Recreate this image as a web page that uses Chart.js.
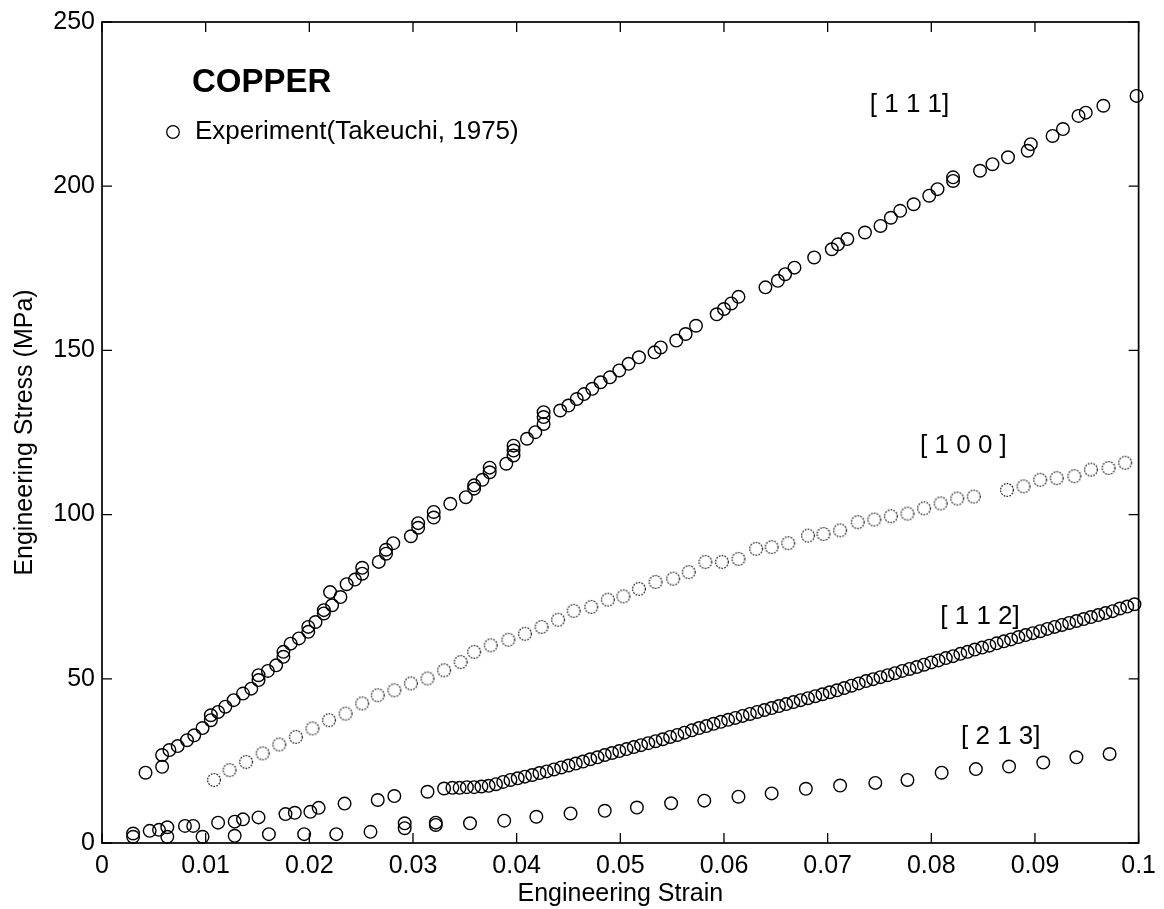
<!DOCTYPE html>
<html lang="en">
<head>
    <meta charset="UTF-8">
    <title>Copper - Engineering Stress vs Strain</title>
    <style>
        html, body { margin: 0; padding: 0; background: #fff; }
        #chart-container {
            width: 1164px;
            height: 909px;
        }
    </style>
</head>
<body>
    <div id="chart-container">
        <canvas id="copper-chart"></canvas>
    </div>

    <script src="https://cdn.jsdelivr.net/npm/chart.js"></script>

    <script>
        // [1 1 1] orientation
        const strain111 = [0.0042,0.0058,0.0058,0.0065,0.0073,0.0082,0.0089,0.0097,0.0105,0.0105,
            0.0112,0.0119,0.0127,0.0136,0.0144,0.0151,0.0151,0.0160,0.0168,0.0175,
            0.0175,0.0182,0.0190,0.0199,0.0199,0.0206,0.0214,0.0214,0.0222,0.0220,
            0.0230,0.0236,0.0244,0.0251,0.0251,0.0267,0.0274,0.0274,0.0281,0.0298,
            0.0305,0.0305,0.0320,0.0320,0.0336,0.0351,0.0359,0.0359,0.0367,0.0374,
            0.0374,0.0390,0.0397,0.0397,0.0397,0.0410,0.0418,0.0426,0.0426,0.0426,
            0.0442,0.0450,0.0458,0.0465,0.0473,0.0481,0.0490,0.0499,0.0508,0.0518,
            0.0533,0.0539,0.0554,0.0563,0.0573,0.0593,0.0600,0.0607,0.0614,0.0640,
            0.0652,0.0659,0.0668,0.0687,0.0704,0.0710,0.0719,0.0736,0.0751,0.0761,
            0.0770,0.0783,0.0798,0.0806,0.0821,0.0821,0.0847,0.0859,0.0874,0.0893,
            0.0896,0.0917,0.0927,0.0942,0.0949,0.0966,0.0998];
        const stress111 = [21.4,23.2,26.8,28.3,29.5,31.3,32.8,35.0,37.4,38.9,
            39.9,41.5,43.5,45.5,47.0,49.6,51.1,52.4,54.1,56.7,
            58.2,60.7,62.3,64.3,65.8,67.3,69.9,70.9,72.4,76.4,
            74.9,78.8,80.2,82.0,83.8,85.6,88.1,89.3,91.3,93.4,
            96.0,97.4,99.1,100.8,103.3,105.3,107.9,108.9,110.6,112.9,
            114.3,115.5,118.0,119.5,121.0,123.1,125.1,127.6,129.7,131.2,
            131.7,133.2,135.2,136.7,138.3,140.3,141.8,143.9,145.9,147.9,
            149.4,150.9,153.0,155.0,157.5,161.0,162.6,164.3,166.3,169.2,
            171.2,173.2,175.2,178.3,180.8,182.3,183.9,185.9,187.9,190.4,
            192.5,194.5,197.1,199.1,201.6,202.7,204.7,206.7,208.8,210.8,
            212.8,215.3,217.4,221.4,222.4,224.5,227.5];

        // [1 0 0] orientation
        const strain100 = [0.0108,0.0123,0.0139,0.0155,0.0171,0.0187,0.0203,0.0219,0.0235,0.0251,
            0.0266,0.0282,0.0298,0.0314,0.0330,0.0346,0.0359,0.0375,0.0392,0.0408,
            0.0424,0.0440,0.0455,0.0472,0.0488,0.0503,0.0518,0.0534,0.0551,0.0566,
            0.0582,0.0598,0.0614,0.0631,0.0646,0.0662,0.0681,0.0696,0.0712,0.0729,
            0.0745,0.0761,0.0777,0.0793,0.0809,0.0825,0.0841,0.0873,0.0889,0.0905,
            0.0921,0.0938,0.0954,0.0971,0.0987];
        const stress100 = [19.2,22.2,24.7,27.3,30.0,32.3,34.9,37.4,39.4,42.5,
            45.0,46.5,48.6,50.1,52.6,55.1,58.2,60.2,61.9,63.7,
            65.8,68.0,70.7,71.9,74.1,75.1,77.4,79.5,80.5,82.5,
            85.6,85.6,86.5,89.6,90.1,91.3,93.6,94.1,95.2,97.7,
            98.5,99.5,100.3,101.9,103.4,104.9,105.5,107.5,108.6,110.6,
            111.1,111.7,113.7,114.2,115.8];

        // [1 1 2] orientation
        const strain112 = [0.0030,0.0046,0.0055,0.0063,0.0080,0.0088,0.0112,0.0128,0.0136,0.0151,
            0.0177,0.0186,0.0201,0.0209,0.0234,0.0266,0.0282,0.0314,0.0330,
            0.0338,0.0345,0.0352,0.0359,0.0366,0.0373,0.0380,0.0387,0.0394,0.0401,
            0.0408,0.0415,0.0422,0.0429,0.0436,0.0443,0.0450,0.0457,0.0464,0.0471,
            0.0478,0.0485,0.0492,0.0499,0.0506,0.0513,0.0520,0.0527,0.0534,0.0541,
            0.0548,0.0555,0.0562,0.0569,0.0576,0.0583,0.0590,0.0597,0.0604,0.0611,
            0.0618,0.0625,0.0632,0.0639,0.0646,0.0653,0.0660,0.0667,0.0674,0.0681,
            0.0688,0.0695,0.0702,0.0709,0.0716,0.0723,0.0730,0.0737,0.0744,0.0751,
            0.0758,0.0765,0.0772,0.0779,0.0786,0.0793,0.0800,0.0807,0.0814,0.0821,
            0.0828,0.0835,0.0842,0.0849,0.0856,0.0863,0.0870,0.0877,0.0884,0.0891,
            0.0898,0.0905,0.0912,0.0919,0.0926,0.0933,0.0940,0.0947,0.0954,0.0961,
            0.0968,0.0975,0.0982,0.0989,0.0996];
        const stress112 = [2.9,3.7,4.0,4.8,5.2,5.2,6.2,6.5,7.2,7.8,
            8.8,9.2,9.5,10.7,12.0,13.1,14.3,15.6,16.6,
            16.8,16.8,17.0,17.0,17.2,17.4,17.9,18.6,19.2,19.7,
            20.2,20.7,21.3,21.8,22.4,23.0,23.6,24.2,24.8,25.5,
            26.1,26.8,27.4,28.0,28.6,29.2,29.8,30.4,31.0,31.6,
            32.3,32.9,33.6,34.3,35.0,35.6,36.3,36.9,37.5,38.1,
            38.7,39.3,39.9,40.5,41.1,41.7,42.3,42.9,43.5,44.1,
            44.7,45.3,45.9,46.5,47.2,47.9,48.6,49.3,49.9,50.5,
            51.1,51.7,52.4,53.0,53.6,54.3,55.0,55.6,56.3,56.9,
            57.6,58.2,58.9,59.5,60.1,60.8,61.4,62.0,62.7,63.3,
            63.9,64.5,65.2,65.8,66.4,67.0,67.6,68.2,68.8,69.4,
            70.0,70.6,71.4,72.0,72.7];

        // [2 1 3] orientation
        const strain213 = [0.0030,0.0063,0.0097,0.0128,0.0161,0.0195,0.0226,0.0259,0.0292,0.0292,
            0.0322,0.0322,0.0355,0.0388,0.0419,0.0452,0.0485,0.0516,0.0549,0.0581,
            0.0614,0.0646,0.0679,0.0712,0.0746,0.0777,0.0810,0.0843,0.0875,0.0908,
            0.0940,0.0972];
        const stress213 = [1.9,1.9,1.9,2.2,2.7,2.7,2.7,3.4,4.5,6.0,
            5.5,6.2,6.0,6.8,8.0,9.0,9.8,10.8,12.1,12.9,
            14.1,15.1,16.5,17.5,18.3,19.2,21.4,22.5,23.3,24.5,
            26.1,27.1];

        const xTicks = [0, 0.01, 0.02, 0.03, 0.04, 0.05, 0.06, 0.07, 0.08, 0.09, 0.1];
        const yTicks = [0, 50, 100, 150, 200, 250];

        const curveLabels = ['[ 1 1 1]', '[ 1 0 0 ]', '[ 1 1 2]', '[ 2 1 3]'];
        const labelStrain = [0.0779, 0.0831, 0.0847, 0.0867];
        const labelStress = [224.8, 121.0, 68.9, 32.3];

        const FONT = '"Liberation Sans", Arial, Helvetica, sans-serif';

        function toPoints(xs, ys) {
            return xs.map((x, i) => ({ x: x, y: ys[i] }));
        }

        // dotted grey circle used for the [1 0 0] markers
        function dottedCircle() {
            const c = document.createElement('canvas');
            c.width = 18;
            c.height = 18;
            const g = c.getContext('2d');
            g.setLineDash([1.7, 1.2]);
            g.strokeStyle = '#2a2a2a';
            g.lineWidth = 1.3;
            g.beginPath();
            g.arc(9, 9, 6.4, 0, Math.PI * 2);
            g.stroke();
            return c;
        }

        const frameAndText = {
            id: 'frameAndText',
            afterDraw(chart) {
                const ctx = chart.ctx;
                const a = chart.chartArea;
                const x = chart.scales.x;
                const y = chart.scales.y;
                ctx.save();

                // box
                ctx.strokeStyle = '#000';
                ctx.lineWidth = 1.7;
                ctx.strokeRect(a.left, a.top, a.right - a.left, a.bottom - a.top);

                // inward tick marks on all four sides
                ctx.lineWidth = 1.3;
                ctx.beginPath();
                xTicks.forEach(v => {
                    const px = x.getPixelForValue(v);
                    ctx.moveTo(px, a.bottom); ctx.lineTo(px, a.bottom - 10);
                    ctx.moveTo(px, a.top); ctx.lineTo(px, a.top + 10);
                });
                yTicks.forEach(v => {
                    const py = y.getPixelForValue(v);
                    ctx.moveTo(a.left, py); ctx.lineTo(a.left + 10, py);
                    ctx.moveTo(a.right, py); ctx.lineTo(a.right - 10, py);
                });
                ctx.stroke();

                // orientation labels
                ctx.fillStyle = '#000';
                ctx.font = '26px ' + FONT;
                ctx.textAlign = 'center';
                ctx.textBaseline = 'middle';
                curveLabels.forEach((t, i) => {
                    ctx.fillText(t, x.getPixelForValue(labelStrain[i]), y.getPixelForValue(labelStress[i]));
                });

                // legend block
                ctx.textAlign = 'left';
                ctx.font = 'bold 33px ' + FONT;
                ctx.fillText('COPPER', a.left + 90, a.top + 61);
                ctx.font = '26px ' + FONT;
                ctx.fillText('Experiment(Takeuchi, 1975)', a.left + 93, a.top + 110);
                ctx.lineWidth = 1.3;
                ctx.beginPath();
                ctx.arc(a.left + 71, a.top + 110, 6.3, 0, Math.PI * 2);
                ctx.stroke();

                ctx.restore();
            }
        };

        const solid = {
            pointStyle: 'circle',
            pointRadius: 6.3,
            pointBorderWidth: 1.4,
            pointBorderColor: '#000',
            pointBackgroundColor: 'rgba(0,0,0,0)',
            showLine: false,
            clip: false
        };

        const ctx = document.getElementById('copper-chart').getContext('2d');
        const chart = new Chart(ctx, {
            type: 'scatter',
            data: {
                datasets: [
                    Object.assign({ label: '[1 1 1]', data: toPoints(strain111, stress111) }, solid),
                    {
                        label: '[1 0 0]',
                        data: toPoints(strain100, stress100),
                        pointStyle: dottedCircle(),
                        showLine: false,
                        clip: false
                    },
                    Object.assign({ label: '[1 1 2]', data: toPoints(strain112, stress112) }, solid),
                    Object.assign({ label: '[2 1 3]', data: toPoints(strain213, stress213) }, solid)
                ]
            },
            options: {
                responsive: true,
                maintainAspectRatio: false,
                animation: false,
                events: [],
                layout: { padding: { top: 21, right: 19, left: 0, bottom: 0 } },
                plugins: {
                    legend: { display: false },
                    tooltip: { enabled: false }
                },
                scales: {
                    x: {
                        type: 'linear',
                        min: 0,
                        max: 0.1,
                        afterBuildTicks: s => { s.ticks = xTicks.map(v => ({ value: v })); },
                        afterFit: s => { s.height = 66; },
                        grid: { display: false, drawTicks: false },
                        border: { display: false },
                        ticks: {
                            padding: 8,
                            color: '#000',
                            font: { family: FONT, size: 25 },
                            maxRotation: 0,
                            callback: v => String(Number(v.toFixed(2)))
                        },
                        title: {
                            display: true,
                            text: 'Engineering Strain',
                            color: '#000',
                            font: { family: FONT, size: 25 },
                            padding: { top: 0, bottom: 0 }
                        }
                    },
                    y: {
                        type: 'linear',
                        min: 0,
                        max: 250,
                        afterBuildTicks: s => { s.ticks = yTicks.map(v => ({ value: v })); },
                        afterFit: s => { s.width = 102; },
                        grid: { display: false, drawTicks: false },
                        border: { display: false },
                        ticks: {
                            padding: 7,
                            color: '#000',
                            font: { family: FONT, size: 25 }
                        },
                        title: {
                            display: true,
                            text: 'Engineering Stress (MPa)',
                            color: '#000',
                            font: { family: FONT, size: 25 },
                            padding: { top: 10, bottom: 0 }
                        }
                    }
                }
            },
            plugins: [frameAndText]
        });
    </script>
</body>
</html>
